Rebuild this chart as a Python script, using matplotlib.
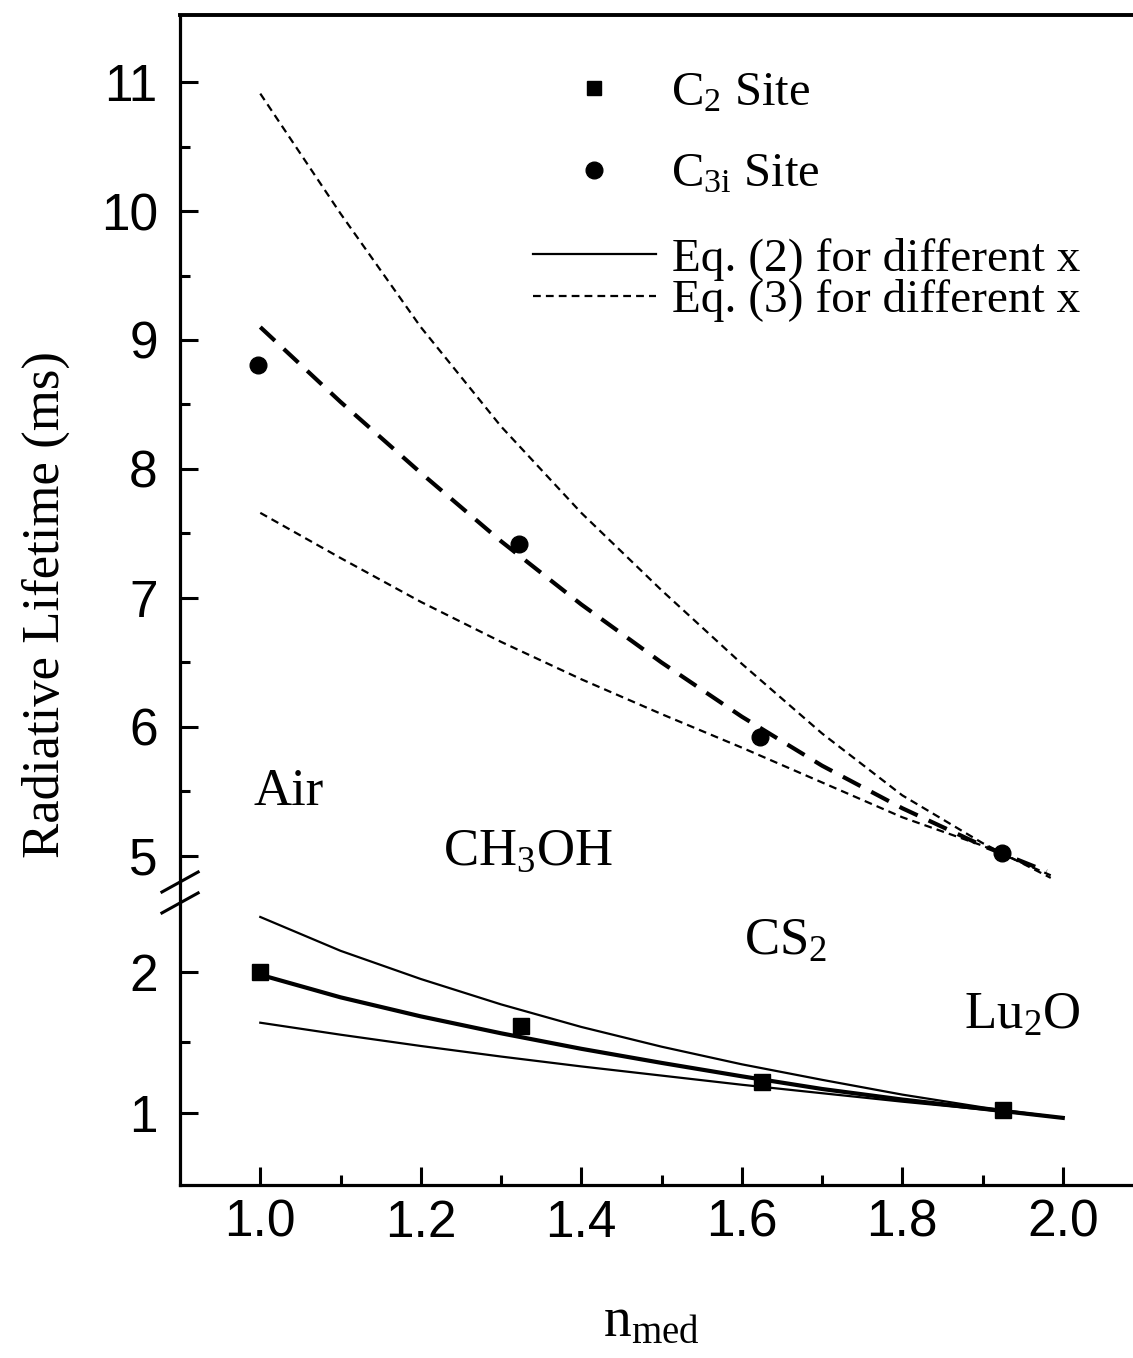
import numpy as np
import matplotlib
matplotlib.use("Agg")
import matplotlib.pyplot as plt
from matplotlib import font_manager
from matplotlib.lines import Line2D

# measured points
n_c2 = [1.0, 1.325, 1.625, 1.925]
tau_c2 = [2.0, 1.62, 1.22, 1.02]
n_c3i = [0.997, 1.322, 1.623, 1.924]
tau_c3i = [8.81, 7.42, 5.92, 5.02]

# Eq. (2) curves (lower panel)
n_eq2 = [1.0, 1.1, 1.2, 1.3, 1.4, 1.5, 1.6, 1.7, 1.8, 1.9, 2.0]
eq2_high = [2.39, 2.15, 1.95, 1.77, 1.61, 1.47, 1.345, 1.235, 1.13, 1.04, 0.965]
eq2_mid = [1.98, 1.82, 1.685, 1.565, 1.455, 1.355, 1.26, 1.17, 1.095, 1.03, 0.965]
eq2_low = [1.64, 1.555, 1.475, 1.40, 1.33, 1.265, 1.20, 1.14, 1.08, 1.025, 0.965]

# Eq. (3) curves (upper panel)
n_eq3 = [1.0, 1.1, 1.2, 1.3, 1.4, 1.5, 1.6, 1.7, 1.8, 1.9, 1.985]
eq3_high = [10.91, 9.98, 9.10, 8.33, 7.66, 7.06, 6.49, 5.95, 5.47, 5.10, 4.83]
eq3_low = [7.66, 7.31, 6.97, 6.66, 6.37, 6.10, 5.84, 5.57, 5.30, 5.08, 4.85]
n_fit = [1.0, 1.1, 1.2, 1.3, 1.4, 1.5, 1.6, 1.7, 1.8, 1.9, 1.98]
fit_c3i = [9.10, 8.52, 7.97, 7.44, 6.95, 6.50, 6.08, 5.70, 5.37, 5.08, 4.88]

yticks = [1, 2, 5, 6, 7, 8, 9, 10, 11]
yminor = [1.5, 5.5, 6.5, 7.5, 8.5, 9.5, 10.5]
xticks = [1.0, 1.2, 1.4, 1.6, 1.8, 2.0]
xminor = [1.1, 1.3, 1.5, 1.7, 1.9]


# broken y axis: 1-2.5 below, 4.8-11.5 above
def fwd(y):
    y = np.asarray(y, dtype=float)
    return np.where(y <= 2.5, (y - 1) * 141,
                    np.where(y >= 4.8, 257 + (y - 5) * 129,
                             211.5 + (y - 2.5) * (231.2 - 211.5) / 2.3))


def inv(t):
    t = np.asarray(t, dtype=float)
    return np.where(t <= 211.5, 1 + t / 141,
                    np.where(t >= 231.2, 5 + (t - 257) / 129,
                             2.5 + (t - 211.5) * 2.3 / (231.2 - 211.5)))


names = {f.name for f in font_manager.fontManager.ttflist}
sans = "Liberation Sans Narrow" if "Liberation Sans Narrow" in names else "Liberation Sans"
serif = "Liberation Serif"

plt.rcParams["mathtext.fontset"] = "custom"
plt.rcParams["mathtext.rm"] = serif
plt.rcParams["mathtext.it"] = serif + ":italic"
plt.rcParams["font.family"] = serif

fig = plt.figure(figsize=(11.33, 13.58), dpi=100)
ax = fig.add_axes([0.1589, 0.1274, 0.8411, 0.8616])
ax.set_yscale("function", functions=(fwd, inv))

dot = (0, (3.5, 2.3))
longdash = (0, (4.8, 2.9))

ax.plot(n_eq2, eq2_high, color="k", lw=1.6)
ax.plot(n_eq2, eq2_mid, color="k", lw=3.0)
ax.plot(n_eq2, eq2_low, color="k", lw=1.6)
ax.plot(n_eq3, eq3_high, color="k", lw=1.6, linestyle=dot)
ax.plot(n_eq3, eq3_low, color="k", lw=1.6, linestyle=dot)
ax.plot(n_fit, fit_c3i, color="k", lw=3.0, linestyle=longdash)
ax.plot(n_c2, tau_c2, "ks", ms=11.5, zorder=5)
ax.plot(n_c3i, tau_c3i, "ko", ms=12, zorder=5)

ax.set_xlim(0.9, 2.0875)
ax.set_ylim(0.489, 11.52)

ax.set_xticks(xticks, labels=["%.1f" % v for v in xticks])
ax.set_xticks(xminor, minor=True)
ax.set_yticks(yticks, labels=[str(v) for v in yticks])
ax.set_yticks(yminor, minor=True)
ax.tick_params(which="both", direction="in", width=2.2, top=False, right=False)
ax.tick_params(which="major", length=13)
ax.tick_params(which="minor", length=7)
ax.tick_params(axis="y", pad=16)
ax.tick_params(axis="x", pad=10)
for lab in ax.get_xticklabels() + ax.get_yticklabels():
    lab.set_fontfamily(sans)
    lab.set_fontsize(37)

for s in ["left", "bottom"]:
    ax.spines[s].set_linewidth(2.3)
ax.spines["top"].set_linewidth(2.8)
ax.spines["right"].set_visible(False)

# axis break marks
for dy in [0.0, -0.0179]:
    ax.plot([-0.019, 0.019], [0.2504 + dy, 0.2675 + dy], transform=ax.transAxes,
            color="k", lw=2.2, clip_on=False)

ax.set_ylabel("Radiative Lifetime (ms)", fontsize=38)
ax.yaxis.set_label_coords(-0.115, 0.496)
ax.set_xlabel(r"n$_{\mathrm{med}}$", fontsize=40)
ax.xaxis.set_label_coords(0.495, -0.095)

ax.text(0.991, 5.395, "Air", fontsize=38, va="baseline")
ax.text(1.2275, 4.93, r"CH$_{\mathrm{3}}$OH", fontsize=38, va="baseline")
ax.text(1.6025, 2.12, r"CS$_{\mathrm{2}}$", fontsize=38, va="baseline")
ax.text(1.877, 1.60, r"Lu$_{\mathrm{2}}$O", fontsize=38, va="baseline")

h_pts = [Line2D([], [], color="k", marker="s", ms=10, ls="none"),
         Line2D([], [], color="k", marker="o", ms=12, ls="none")]
leg1 = fig.legend(h_pts, [r"C$_{\mathrm{2}}$ Site", r"C$_{\mathrm{3i}}$ Site"],
                  loc="center left", bbox_to_anchor=(0.4704, 1 - 134 / 1358),
                  frameon=False, fontsize=35, borderpad=0, borderaxespad=0,
                  handlelength=2.5, handletextpad=0.33, labelspacing=0.77)
h_lines = [Line2D([], [], color="k", lw=1.6),
           Line2D([], [], color="k", lw=1.6, linestyle=dot)]
leg2 = fig.legend(h_lines, ["Eq. (2) for different x", "Eq. (3) for different x"],
                  loc="center left", bbox_to_anchor=(0.4704, 1 - 280 / 1358),
                  frameon=False, fontsize=34, borderpad=0, borderaxespad=0,
                  handlelength=2.6, handletextpad=0.34, labelspacing=-0.04)

fig.savefig("out.png", dpi=100)
